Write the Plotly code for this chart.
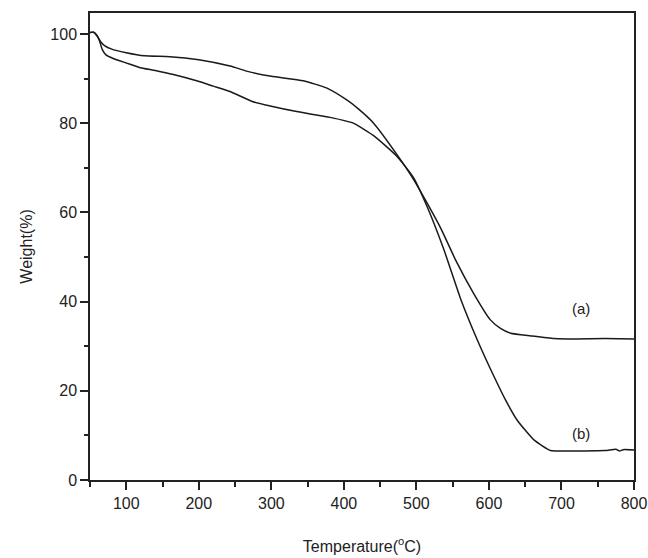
import plotly.graph_objects as go

# Curve (a)
temp_a = [50, 55, 60, 65, 70, 80, 100, 125, 160, 200, 243, 270, 300, 344, 376, 404, 420,
          441, 473, 496, 515, 534, 555, 579, 602, 616, 630, 658, 690, 720, 760, 800]
weight_a = [100.3, 100.4, 99.5, 98.2, 97.4, 96.6, 95.8, 95.1, 94.9, 94.2, 92.8, 91.5, 90.5,
            89.5, 87.9, 85.2, 83.2, 80.0, 73.0, 67.4, 62.0, 56.3, 49.0, 41.8, 35.9, 34.0,
            32.9, 32.3, 31.7, 31.6, 31.7, 31.6]

# Curve (b)
temp_b = [50, 55, 60, 63, 67, 72, 82, 100, 118, 140, 165, 197, 220, 243, 275, 300, 335, 381,
          413, 441, 473, 496, 515, 538, 561, 584, 607, 623, 639, 662, 685, 700, 760,
          775, 780, 785, 800]
weight_b = [100.3, 100.4, 99.6, 98.5, 96.5, 95.3, 94.5, 93.5, 92.5, 91.8, 90.9, 89.5, 88.3,
            87.1, 84.8, 83.8, 82.6, 81.3, 80.0, 77.2, 72.6, 67.8, 61.2, 51.6, 40.6, 31.4,
            23.2, 17.9, 13.4, 9.0, 6.6, 6.5, 6.6, 6.9, 6.5, 6.8, 6.7]

x_ticks = [100, 200, 300, 400, 500, 600, 700, 800]
y_ticks = [0, 20, 40, 60, 80, 100]

labels = ["(a)", "(b)"]
label_x = [727, 727]
label_y = [38.5, 10.5]

FONT = "Liberation Sans, Arial, sans-serif"
LINE = "#1a1a1a"

fig = go.Figure()
fig.add_trace(go.Scatter(x=temp_a, y=weight_a, mode="lines",
                         line=dict(color=LINE, width=1.5, shape="spline", smoothing=0.5),
                         showlegend=False))
fig.add_trace(go.Scatter(x=temp_b, y=weight_b, mode="lines",
                         line=dict(color=LINE, width=1.5, shape="spline", smoothing=0.5),
                         showlegend=False))

for t, lx, ly in zip(labels, label_x, label_y):
    fig.add_annotation(x=lx, y=ly, text=t, showarrow=False,
                       font=dict(family=FONT, size=15, color="#222"))

fig.update_layout(
    width=648, height=558,
    margin=dict(l=90, r=14, t=13, b=78),
    paper_bgcolor="white", plot_bgcolor="white",
    font=dict(family=FONT, size=16, color="#222"),
    xaxis=dict(range=[50, 800], tickvals=x_ticks, ticks="outside", ticklen=8,
               tickwidth=1.5, tickcolor="#222", showgrid=False, zeroline=False,
               showline=True, linecolor="#222", linewidth=1.5, mirror=True,
               automargin=False,
               minor=dict(tickvals=[50, 150, 250, 350, 450, 550, 650, 750], ticks="outside",
                          ticklen=5, tickwidth=1.5, tickcolor="#222"),
               title=dict(text="Temperature(<sup>o</sup>C)", standoff=30,
                          font=dict(size=16, color="#222")),
               tickfont=dict(size=16)),
    yaxis=dict(range=[0, 104.7], tickvals=y_ticks, ticks="outside", ticklen=8,
               tickwidth=1.5, tickcolor="#222", showgrid=False, zeroline=False,
               showline=True, linecolor="#222", linewidth=1.5, mirror=True,
               automargin=False,
               minor=dict(tickvals=[10, 30, 50, 70, 90], ticks="outside",
                          ticklen=4, tickwidth=1.5, tickcolor="#222"),
               title=dict(text="Weight(%)", standoff=14,
                          font=dict(size=16, color="#222")),
               tickfont=dict(size=16)),
)

fig.write_html("out.html", config={"displayModeBar": False},
               post_script="document.body.style.margin='0';document.body.style.overflow='hidden';")
